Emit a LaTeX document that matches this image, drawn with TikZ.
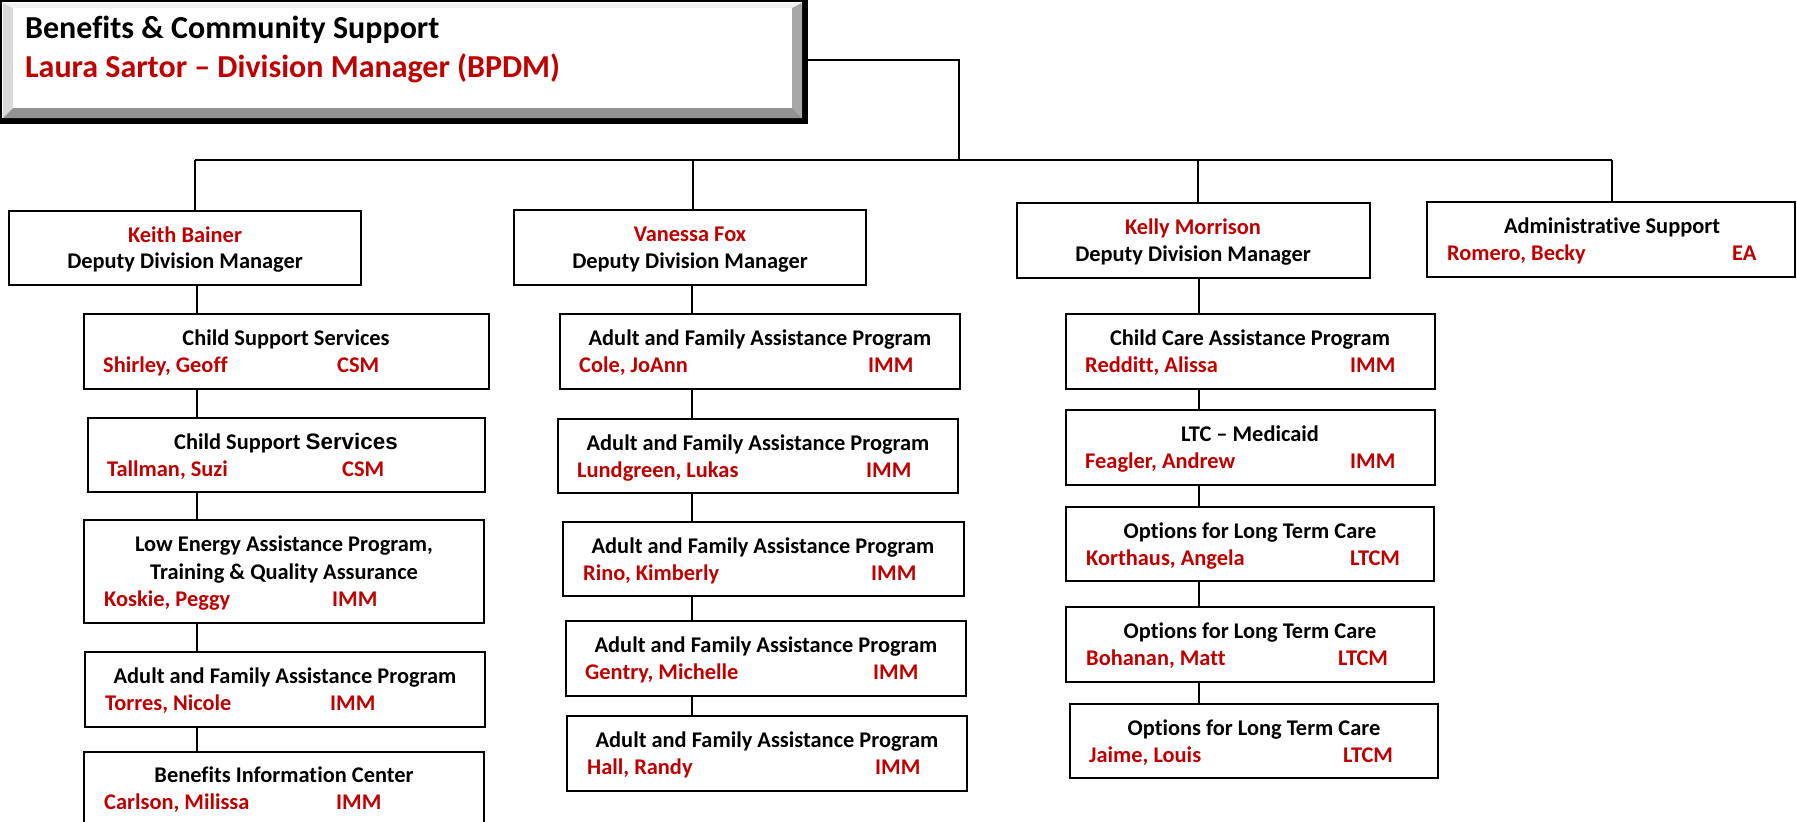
\documentclass[tikz,border=0pt]{standalone}
\usepackage{fontspec}
\setmainfont{Carlito}[Ligatures={TeX,NoCommon}]
\newfontfamily\arialf{Liberation Sans}
\definecolor{rd}{HTML}{C00000}
\newcommand\obx[5]{\node[obox, minimum width={(#4)-(#2)}, minimum height={(#5)-(#3)}] (#1) at ({((#2)+(#4))/2},{((#3)+(#5))/2}) {};}
\newcommand\ttxt[4]{\node[ttl] (#1) at (#2,#3) {#4};}
\newcommand\rtxt[4]{\node[rtl] (#1) at (#2,#3) {#4};}
\newcommand\ntxt[4]{\node[nml] (#1) at (#2,#3) {#4};}
\begin{document}
\begin{tikzpicture}[x=1pt,y=-1pt,
  obox/.style={draw, line width=1.8pt, fill=white, inner sep=0pt, outer sep=0pt},
  conn/.style={line width=1.6pt},
  ttl/.style={anchor=base, inner sep=0pt, font=\bfseries\fontsize{22.4}{27}\selectfont},
  rtl/.style={ttl, text=rd},
  nml/.style={anchor=base west, inner sep=0pt, text=rd, font=\bfseries\fontsize{22.4}{27}\selectfont},
  bigt/.style={anchor=base west, inner sep=0pt, font=\bfseries\fontsize{32}{38}\selectfont}]
\useasboundingbox (0,0) rectangle (1797,822);
\clip (0,0) rectangle (1797,822);
% ---- top bevel box
\node[fill=black, minimum width=808, minimum height=124, inner sep=0pt, outer sep=0pt] (top) at (404,62) {};
\fill[white] (2,2) rectangle (802,118);
\fill[gray!10] (3,3) -- (802,3) -- (792,8) -- (13,8) -- cycle;
\fill[gray!30] (3,3) -- (13,8) -- (13,108) -- (3,118) -- cycle;
\fill[gray!70] (802,3) -- (802,118) -- (792,108) -- (792,8) -- cycle;
\fill[gray!85] (3,118) -- (802,118) -- (792,108) -- (13,108) -- cycle;
\fill[white] (13,8) rectangle (792,108);
\node[bigt] (tt1) at (25,38) {Benefits \& Community Support};
\node[bigt, text=rd] (tt2) at (25,77) {Laura Sartor – Division Manager (BPDM)};
% ---- deputy row
\obx{kb}{9}{211}{361}{285}
\rtxt{kb1}{185}{242}{Keith Bainer}
\ttxt{kb2}{185}{268}{Deputy Division Manager}
\obx{vf}{514}{210}{866}{285}
\rtxt{vf1}{690}{241}{Vanessa Fox}
\ttxt{vf2}{690}{268}{Deputy Division Manager}
\obx{km}{1017}{203}{1370}{278}
\rtxt{km1}{1193}{234}{Kelly Morrison}
\ttxt{km2}{1193}{261}{Deputy Division Manager}
\obx{as}{1427}{202}{1795}{277}
\ttxt{as1}{1612}{233}{Administrative Support}
\ntxt{as2}{1447}{260}{Romero, Becky}
\ntxt{as3}{1732}{260}{EA}
% ---- Keith column
\obx{cs1}{84}{314}{489}{389}
\ttxt{cs1t}{286}{345}{Child Support Services}
\ntxt{cs1n}{103}{372}{Shirley, Geoff}
\ntxt{cs1r}{337}{372}{CSM}
\obx{cs2}{88}{418}{485}{492}
\ttxt{cs2t}{286}{449}{Child Support {\arialf Services}}
\ntxt{cs2n}{107}{476}{Tallman, Suzi}
\ntxt{cs2r}{342}{476}{CSM}
\obx{leap}{84}{520}{484}{623}
\ttxt{leapa}{284}{551}{Low Energy Assistance Program,}
\ttxt{leapb}{284}{579}{Training \& Quality Assurance}
\ntxt{leapn}{104}{606}{Koskie, Peggy}
\ntxt{leapr}{332}{606}{IMM}
\obx{afk}{85}{652}{485}{727}
\ttxt{afkt}{285}{683}{Adult and Family Assistance Program}
\ntxt{afkn}{105}{710}{Torres, Nicole}
\ntxt{afkr}{330}{710}{IMM}
\obx{bic}{84}{752}{484}{850}
\ttxt{bict}{284}{782}{Benefits Information Center}
\ntxt{bicn}{104}{809}{Carlson, Milissa}
\ntxt{bicr}{336}{809}{IMM}
% ---- Vanessa column
\obx{af1}{560}{314}{960}{389}
\ttxt{af1t}{760}{345}{Adult and Family Assistance Program}
\ntxt{af1n}{579}{372}{Cole, JoAnn}
\ntxt{af1r}{868}{372}{IMM}
\obx{af2}{558}{419}{958}{493}
\ttxt{af2t}{758}{450}{Adult and Family Assistance Program}
\ntxt{af2n}{577}{477}{Lundgreen, Lukas}
\ntxt{af2r}{866}{477}{IMM}
\obx{af3}{563}{522}{964}{596}
\ttxt{af3t}{763}{553}{Adult and Family Assistance Program}
\ntxt{af3n}{583}{580}{Rino, Kimberly}
\ntxt{af3r}{871}{580}{IMM}
\obx{af4}{566}{621}{966}{696}
\ttxt{af4t}{766}{652}{Adult and Family Assistance Program}
\ntxt{af4n}{585}{679}{Gentry, Michelle}
\ntxt{af4r}{873}{679}{IMM}
\obx{af5}{567}{716}{967}{791}
\ttxt{af5t}{767}{747}{Adult and Family Assistance Program}
\ntxt{af5n}{587}{774}{Hall, Randy}
\ntxt{af5r}{875}{774}{IMM}
% ---- Kelly column
\obx{cc}{1066}{314}{1435}{389}
\ttxt{cct}{1250}{345}{Child Care Assistance Program}
\ntxt{ccn}{1085}{372}{Redditt, Alissa}
\ntxt{ccr}{1350}{372}{IMM}
\obx{ltc}{1066}{410}{1435}{485}
\ttxt{ltct}{1250}{441}{LTC – Medicaid}
\ntxt{ltcn}{1085}{468}{Feagler, Andrew}
\ntxt{ltcr}{1350}{468}{IMM}
\obx{ol1}{1066}{507}{1434}{581}
\ttxt{ol1t}{1250}{538}{Options for Long Term Care}
\ntxt{ol1n}{1086}{565}{Korthaus, Angela}
\ntxt{ol1r}{1350}{565}{LTCM}
\obx{ol2}{1066}{607}{1434}{682}
\ttxt{ol2t}{1250}{638}{Options for Long Term Care}
\ntxt{ol2n}{1086}{665}{Bohanan, Matt}
\ntxt{ol2r}{1338}{665}{LTCM}
\obx{ol3}{1070}{704}{1438}{778}
\ttxt{ol3t}{1254}{735}{Options for Long Term Care}
\ntxt{ol3n}{1089}{762}{Jaime, Louis}
\ntxt{ol3r}{1343}{762}{LTCM}
% ---- connectors
\coordinate (elb) at (959,60);
\coordinate (hub) at (959,160);
\coordinate (busL) at (195,160);
\coordinate (busR) at (1612,160);
\coordinate (bv) at (693,160);
\coordinate (bk) at (1198,160);
\draw[conn] (top.east |- elb) -- (elb) -- (hub);
\draw[conn] (busL) -- (busR);
\draw[conn] (busL) -- (kb.north -| busL);
\draw[conn] (bv) -- (vf.north -| bv);
\draw[conn] (bk) -- (km.north -| bk);
\draw[conn] (busR) -- (as.north -| busR);
\coordinate (xk) at (197,0);
\coordinate (xv) at (692,0);
\coordinate (xm) at (1199,0);
\foreach \a/\b in {kb/cs1, cs1/cs2, cs2/leap, leap/afk, afk/bic}
  \draw[conn] (\a.south -| xk) -- (\b.north -| xk);
\foreach \a/\b in {vf/af1, af1/af2, af2/af3, af3/af4, af4/af5}
  \draw[conn] (\a.south -| xv) -- (\b.north -| xv);
\foreach \a/\b in {km/cc, cc/ltc, ltc/ol1, ol1/ol2, ol2/ol3}
  \draw[conn] (\a.south -| xm) -- (\b.north -| xm);
\end{tikzpicture}
\end{document}
